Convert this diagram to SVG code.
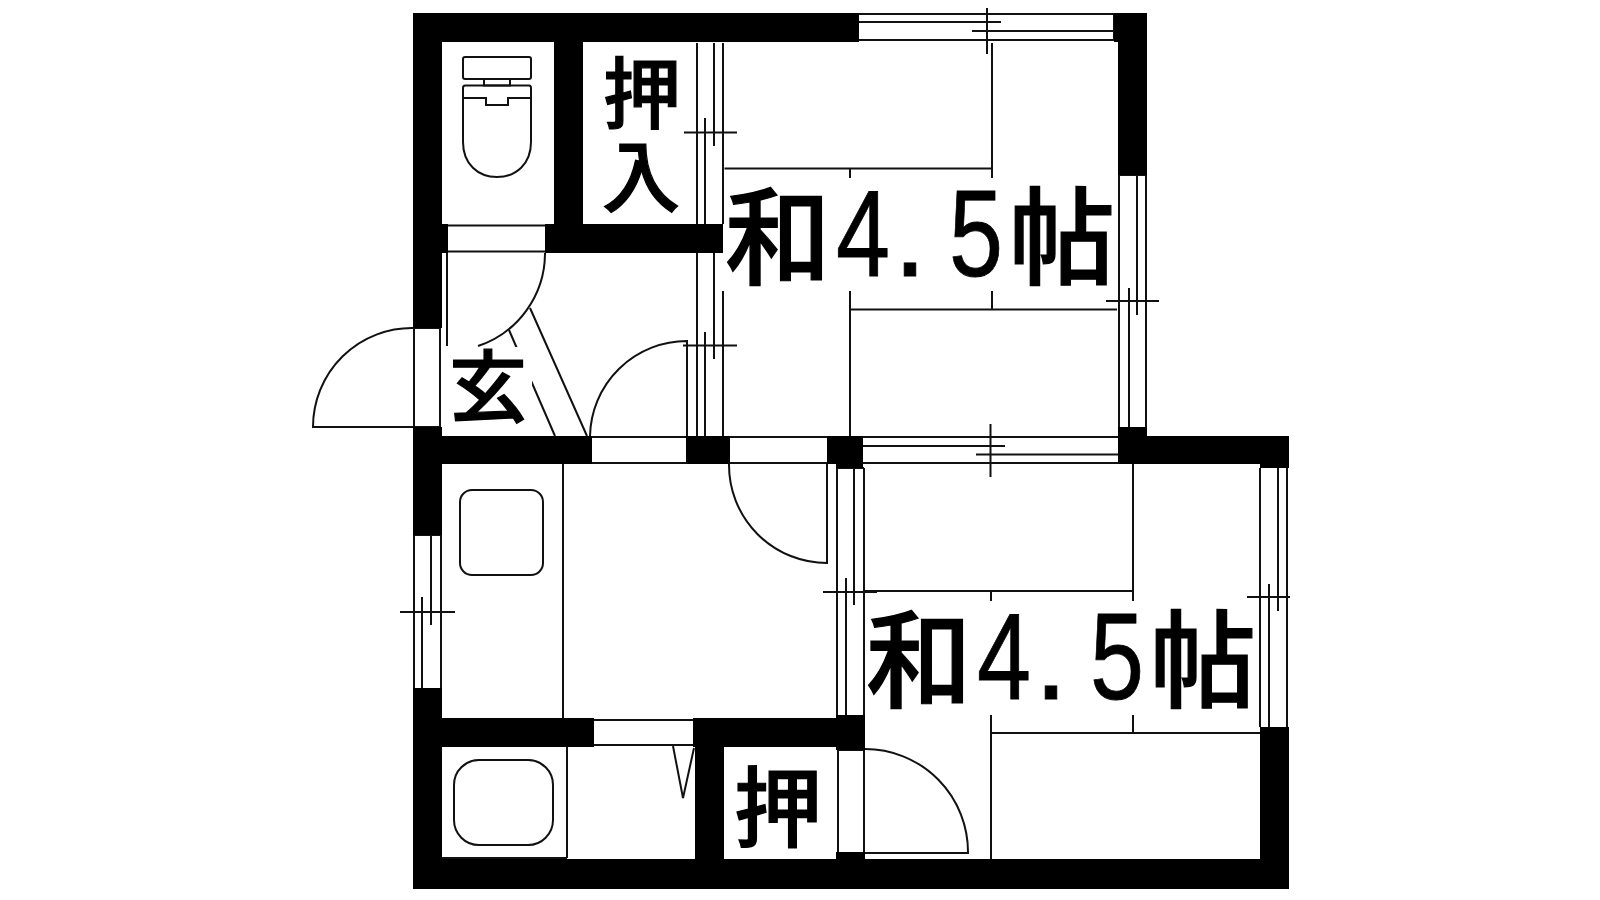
<svg xmlns="http://www.w3.org/2000/svg" width="1600" height="900" viewBox="0 0 1600 900">
<style>
.w{fill:#000;stroke:none}
.l{fill:none;stroke:#111;stroke-width:2}
.b{fill:#fff;stroke:none}
.t{font-family:"Noto Sans CJK JP","Noto Sans CJK SC",sans-serif;fill:#000;font-weight:500;stroke:#000;stroke-width:1.2}
.n{font-family:"Liberation Sans",Arial,sans-serif;font-weight:400;font-size:122px;stroke:#000;stroke-width:.8}
</style>
<rect width="1600" height="900" fill="#fff"/>
<g id="fixtures" class="l">
<!-- windows and frames -->
<path d="M859 14H1114M859 40H1114M859 22H1001M972 31H1114M987 8V54M1114 14V40"/>
<path d="M697 43V224M705 118V224M714 43V146M723 43V224M684 132.500H737"/>
<path d="M697 253V436M705 332V436M714 253V359M723 291V436M683 345.500H737"/>
<path d="M1119 175V427M1129 288V427M1137 175V315M1146 175V427M1106 301H1159M1118 175H1147"/>
<path d="M863 437H1118M863 463H1118M863 446H1005M976 454.500H1118M990.500 424V477"/>
<path d="M730 437H827M730 463H827M592 437H686M592 463H686"/>
<path d="M837 468V715M846 578V715M854 468V605M864 468V715M823 592H877M837 468H864"/>
<path d="M1260 468V727M1269 584V727M1278 468V611M1287 468V727M1247 597H1290"/>
<path d="M414 535V688M422 597V688M431 535V625M441 535V688M400 612H455M414 535H441"/>
<path d="M448 225.500H545M448 251.500H545M594 720H693M594 745H693"/>
<path d="M414 328V428M440 328V428M414 328H440M414 427H440M838 750V852M864 750V852M838 750H865"/>
<!-- doors -->
<path d="M414 328A99 99 0 0 0 313 427H414"/>
<path d="M447 253V346M545 253A98 98 0 0 1 478 346"/>
<path d="M530 308L587 436M509 330L555 436"/>
<path d="M687 436V341A97 97 0 0 0 590 436"/>
<path d="M827 464V563A98 98 0 0 1 729 464"/>
<path d="M865 749A103 103 0 0 1 968 853H865"/>
<path d="M673 746L683 798L694 748"/>
<!-- tatami -->
<path d="M724.500 168.500H992M992 43V178M850 168.500V178M850 291V436M992 291V309.500M850 309.500H1117"/>
<path d="M863 591H1133M1133 464V601M991 591V601M991 715V859M1133 715V733M991 733H1260"/>
<!-- toilet -->
<rect x="463" y="57" width="68" height="22" rx="2"/>
<rect x="484" y="79" width="26" height="6.500"/>
<path d="M465 85.500H529Q531 85.500 531 88V142C531 164 516 177 497 177C478 177 463 164 463 142V88Q463 85.500 465 85.500Z"/>
<path d="M463 98H486V105H508V98H531"/>
<!-- sink, tub, room lines -->
<rect x="460" y="490" width="83" height="85" rx="12"/>
<rect x="454" y="760" width="99" height="85" rx="25"/>
<path d="M563 464V718M567 747V858M442 858H567"/>
</g>
<g id="walls" class="w">
<rect x="413" y="13" width="446" height="29"/>
<rect x="1114" y="13" width="33" height="29"/>
<rect x="1118" y="13" width="29" height="162"/>
<rect x="413" y="13" width="29" height="315"/>
<rect x="413" y="427" width="29" height="108"/>
<rect x="413" y="688" width="29" height="201"/>
<rect x="554" y="42" width="29" height="182"/>
<rect x="545" y="224" width="178" height="29"/>
<rect x="442" y="224" width="6" height="29"/>
<rect x="413" y="436" width="179" height="28"/>
<rect x="686" y="436" width="44" height="28"/>
<rect x="827" y="436" width="36" height="28"/>
<rect x="836" y="464" width="27" height="4"/>
<rect x="1118" y="436" width="171" height="28"/>
<rect x="1118" y="427" width="29" height="10"/>
<rect x="1260" y="464" width="29" height="4"/>
<rect x="442" y="718" width="152" height="29"/>
<rect x="693" y="718" width="172" height="29"/>
<rect x="836" y="715" width="29" height="35"/>
<rect x="695" y="747" width="29" height="112"/>
<rect x="413" y="859" width="876" height="30"/>
<rect x="836" y="852" width="29" height="8"/>
<rect x="1260" y="727" width="29" height="162"/>
</g>
<g id="labels">
<rect class="b" x="446" y="347" width="85" height="31"/>
<rect class="b" x="442" y="378" width="90" height="58"/>
<rect class="b" x="724" y="179" width="392" height="112"/>
<rect class="b" x="865" y="602" width="394" height="113"/>
<text class="t" x="603" y="123" font-size="78">押</text>
<text class="t" x="602" y="206" font-size="78">入</text>
<text class="t" x="449" y="416" font-size="78">玄</text>
<text class="t" x="734" y="840" font-size="88">押</text>
<text class="t" font-size="106" y="276" x="725">和<tspan class="n" x="836" textLength="54" lengthAdjust="spacingAndGlyphs">4</tspan><tspan class="n" x="893" textLength="34" lengthAdjust="spacingAndGlyphs">.</tspan><tspan class="n" x="949" textLength="54" lengthAdjust="spacingAndGlyphs">5</tspan><tspan x="1009">帖</tspan></text>
<text class="t" font-size="106" y="699" x="866">和<tspan class="n" x="977" textLength="54" lengthAdjust="spacingAndGlyphs">4</tspan><tspan class="n" x="1034" textLength="34" lengthAdjust="spacingAndGlyphs">.</tspan><tspan class="n" x="1090" textLength="54" lengthAdjust="spacingAndGlyphs">5</tspan><tspan x="1150">帖</tspan></text>
</g>
</svg>
